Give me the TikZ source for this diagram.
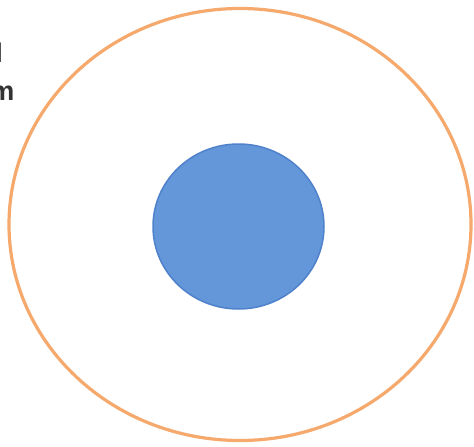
\documentclass[tikz,border=0pt]{standalone}
\usepackage{fontspec}
\setmainfont{Liberation Sans}
\definecolor{ringorange}{HTML}{F5A96C}
\definecolor{coreblue}{HTML}{6496DA}
\definecolor{coreedge}{HTML}{4F82CB}
\definecolor{labelgrey}{HTML}{333333}
\begin{document}
\begin{tikzpicture}[x=1pt,y=-1pt,
  ring/.style={draw=ringorange,line width=3.2pt},
  core/.style={fill=coreblue,draw=coreedge,line width=1.5pt},
  cutlabel/.style={font=\bfseries\fontsize{27}{30}\selectfont,text=labelgrey,inner sep=0pt,anchor=base east}]
\useasboundingbox (0,0) rectangle (474,447);
\clip (0,0) rectangle (474,447);
\fill[white] (0,0) rectangle (474,447);
\draw[ring] (240,224.5) ellipse [x radius=231, y radius=216];
\draw[core] (238.5,226.5) ellipse [x radius=85.5, y radius=82.5];
\node[cutlabel] (mlabel) at (14.5,100) {m};
\node[cutlabel] (llabel) at (3,62) {l};
\end{tikzpicture}
\end{document}
